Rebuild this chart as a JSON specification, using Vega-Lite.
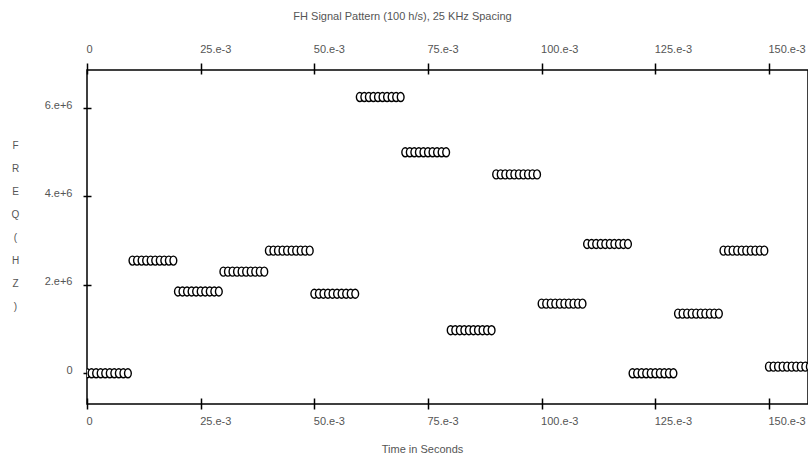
{
  "$schema": "https://vega.github.io/schema/vega-lite/v6.json",
  "autosize": {"type": "none"},
  "padding": {"left": 87, "top": 70, "right": 0, "bottom": 53},
  "width": 721,
  "height": 334,
  "background": "white",
  "config": {
    "view": {"stroke": "#000", "strokeWidth": 1.5},
    "axis": {
      "domain": false, "grid": false,
      "labelFont": "Liberation Sans", "labelFontSize": 11, "labelColor": "#555",
      "titleFont": "Liberation Sans", "titleFontSize": 11, "titleColor": "#555", "titleFontWeight": "normal",
      "tickColor": "#000", "tickWidth": 1.5, "labelFlush": false, "labelOverlap": false
    }
  },
  "title": {
    "text": "FH Signal Pattern (100 h/s), 25 KHz Spacing",
    "font": "Liberation Sans", "fontSize": 11, "fontWeight": "normal", "color": "#555",
    "anchor": "middle", "frame": "group", "dx": -45, "offset": 21
  },
  "datasets": {
    "pts": [
      {"t":0.000,"f":0},{"t":0.001,"f":0},{"t":0.002,"f":0},{"t":0.003,"f":0},{"t":0.004,"f":0},{"t":0.005,"f":0},{"t":0.006,"f":0},{"t":0.007,"f":0},{"t":0.008,"f":0},{"t":0.009,"f":0},
      {"t":0.010,"f":2550000},{"t":0.011,"f":2550000},{"t":0.012,"f":2550000},{"t":0.013,"f":2550000},{"t":0.014,"f":2550000},{"t":0.015,"f":2550000},{"t":0.016,"f":2550000},{"t":0.017,"f":2550000},{"t":0.018,"f":2550000},{"t":0.019,"f":2550000},
      {"t":0.020,"f":1850000},{"t":0.021,"f":1850000},{"t":0.022,"f":1850000},{"t":0.023,"f":1850000},{"t":0.024,"f":1850000},{"t":0.025,"f":1850000},{"t":0.026,"f":1850000},{"t":0.027,"f":1850000},{"t":0.028,"f":1850000},{"t":0.029,"f":1850000},
      {"t":0.030,"f":2300000},{"t":0.031,"f":2300000},{"t":0.032,"f":2300000},{"t":0.033,"f":2300000},{"t":0.034,"f":2300000},{"t":0.035,"f":2300000},{"t":0.036,"f":2300000},{"t":0.037,"f":2300000},{"t":0.038,"f":2300000},{"t":0.039,"f":2300000},
      {"t":0.040,"f":2775000},{"t":0.041,"f":2775000},{"t":0.042,"f":2775000},{"t":0.043,"f":2775000},{"t":0.044,"f":2775000},{"t":0.045,"f":2775000},{"t":0.046,"f":2775000},{"t":0.047,"f":2775000},{"t":0.048,"f":2775000},{"t":0.049,"f":2775000},
      {"t":0.050,"f":1800000},{"t":0.051,"f":1800000},{"t":0.052,"f":1800000},{"t":0.053,"f":1800000},{"t":0.054,"f":1800000},{"t":0.055,"f":1800000},{"t":0.056,"f":1800000},{"t":0.057,"f":1800000},{"t":0.058,"f":1800000},{"t":0.059,"f":1800000},
      {"t":0.060,"f":6250000},{"t":0.061,"f":6250000},{"t":0.062,"f":6250000},{"t":0.063,"f":6250000},{"t":0.064,"f":6250000},{"t":0.065,"f":6250000},{"t":0.066,"f":6250000},{"t":0.067,"f":6250000},{"t":0.068,"f":6250000},{"t":0.069,"f":6250000},
      {"t":0.070,"f":5000000},{"t":0.071,"f":5000000},{"t":0.072,"f":5000000},{"t":0.073,"f":5000000},{"t":0.074,"f":5000000},{"t":0.075,"f":5000000},{"t":0.076,"f":5000000},{"t":0.077,"f":5000000},{"t":0.078,"f":5000000},{"t":0.079,"f":5000000},
      {"t":0.080,"f":975000},{"t":0.081,"f":975000},{"t":0.082,"f":975000},{"t":0.083,"f":975000},{"t":0.084,"f":975000},{"t":0.085,"f":975000},{"t":0.086,"f":975000},{"t":0.087,"f":975000},{"t":0.088,"f":975000},{"t":0.089,"f":975000},
      {"t":0.090,"f":4500000},{"t":0.091,"f":4500000},{"t":0.092,"f":4500000},{"t":0.093,"f":4500000},{"t":0.094,"f":4500000},{"t":0.095,"f":4500000},{"t":0.096,"f":4500000},{"t":0.097,"f":4500000},{"t":0.098,"f":4500000},{"t":0.099,"f":4500000},
      {"t":0.100,"f":1575000},{"t":0.101,"f":1575000},{"t":0.102,"f":1575000},{"t":0.103,"f":1575000},{"t":0.104,"f":1575000},{"t":0.105,"f":1575000},{"t":0.106,"f":1575000},{"t":0.107,"f":1575000},{"t":0.108,"f":1575000},{"t":0.109,"f":1575000},
      {"t":0.110,"f":2925000},{"t":0.111,"f":2925000},{"t":0.112,"f":2925000},{"t":0.113,"f":2925000},{"t":0.114,"f":2925000},{"t":0.115,"f":2925000},{"t":0.116,"f":2925000},{"t":0.117,"f":2925000},{"t":0.118,"f":2925000},{"t":0.119,"f":2925000},
      {"t":0.120,"f":0},{"t":0.121,"f":0},{"t":0.122,"f":0},{"t":0.123,"f":0},{"t":0.124,"f":0},{"t":0.125,"f":0},{"t":0.126,"f":0},{"t":0.127,"f":0},{"t":0.128,"f":0},{"t":0.129,"f":0},
      {"t":0.130,"f":1350000},{"t":0.131,"f":1350000},{"t":0.132,"f":1350000},{"t":0.133,"f":1350000},{"t":0.134,"f":1350000},{"t":0.135,"f":1350000},{"t":0.136,"f":1350000},{"t":0.137,"f":1350000},{"t":0.138,"f":1350000},{"t":0.139,"f":1350000},
      {"t":0.140,"f":2775000},{"t":0.141,"f":2775000},{"t":0.142,"f":2775000},{"t":0.143,"f":2775000},{"t":0.144,"f":2775000},{"t":0.145,"f":2775000},{"t":0.146,"f":2775000},{"t":0.147,"f":2775000},{"t":0.148,"f":2775000},{"t":0.149,"f":2775000},
      {"t":0.150,"f":150000},{"t":0.151,"f":150000},{"t":0.152,"f":150000},{"t":0.153,"f":150000},{"t":0.154,"f":150000},{"t":0.155,"f":150000},{"t":0.156,"f":150000},{"t":0.157,"f":150000},{"t":0.158,"f":150000},{"t":0.159,"f":150000}
    ]
  },
  "resolve": {"axis": {"x": "independent"}},
  "layer": [
    {
      "data": {"name": "pts"},
      "mark": {
        "type": "point",
        "shape": "M0,-1A0.75,1,0,1,1,0,1A0.75,1,0,1,1,0,-1Z",
        "size": 81, "filled": false, "fill": "white", "fillOpacity": 1,
        "stroke": "black", "strokeWidth": 1.4, "opacity": 1, "clip": true
      },
      "encoding": {
        "x": {
          "field": "t", "type": "quantitative",
          "scale": {"domain": [0, 0.1586], "nice": false, "zero": false},
          "axis": {
            "orient": "bottom", "offset": -6, "tickSize": 11,
            "values": [0, 0.025, 0.05, 0.075, 0.1, 0.125, 0.15],
            "labelExpr": "datum.value == 0 ? '0' : round(datum.value * 1000) + '.e-3'",
            "labelAlign": "left", "labelOffset": -1, "labelBaseline": "alphabetic", "labelPadding": 15,
            "title": "Time in Seconds", "titleX": 335, "titleY": 51, "titleBaseline": "middle", "titleAlign": "center"
          }
        },
        "y": {
          "field": "f", "type": "quantitative",
          "scale": {"domain": [-695000, 6862000], "nice": false, "zero": false},
          "axis": {
            "orient": "left", "offset": -4, "tickSize": 8,
            "values": [0, 2000000, 4000000, 6000000],
            "labelExpr": "datum.value == 0 ? '0' : round(datum.value / 1000000) + '.e+6'",
            "labelAlign": "right", "labelBaseline": "middle", "labelPadding": 11, "labelOffset": -3,
            "title": ["F", "R", "E", "Q", "(", "H", "Z", ")"],
            "titleAngle": 0, "titleAlign": "center", "titleBaseline": "alphabetic",
            "titleX": -76, "titleY": 78, "titleLineHeight": 23, "titleFontSize": 10
          }
        }
      }
    },
    {
      "data": {"values": []},
      "mark": {"type": "rule"},
      "encoding": {
        "x": {
          "field": "t", "type": "quantitative",
          "scale": {"domain": [0, 0.1586], "nice": false, "zero": false},
          "axis": {
            "orient": "top", "offset": -4, "tickSize": 11,
            "values": [0, 0.025, 0.05, 0.075, 0.1, 0.125, 0.15],
            "labelExpr": "datum.value == 0 ? '0' : round(datum.value * 1000) + '.e-3'",
            "labelAlign": "left", "labelOffset": -1, "labelBaseline": "alphabetic", "labelPadding": 11,
            "title": null
          }
        }
      }
    }
  ]
}
